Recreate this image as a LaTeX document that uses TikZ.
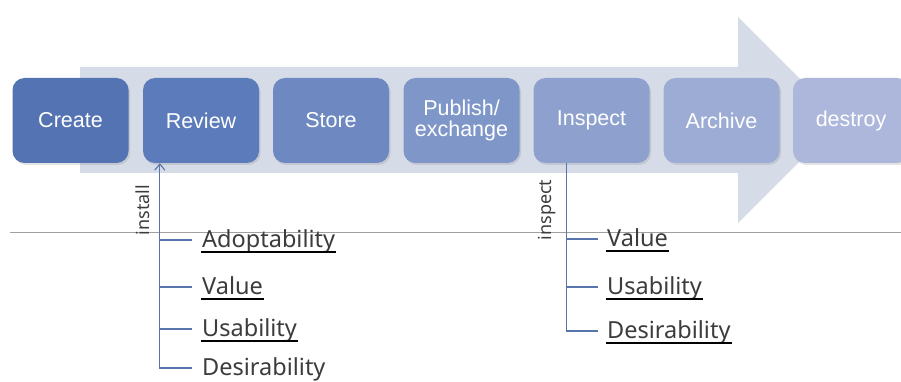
\documentclass[tikz,border=0pt]{standalone}
\usepackage{fontspec}
\setmainfont{Liberation Sans}
\newfontfamily\treefont{Noto Sans}
\usetikzlibrary{arrows.meta,shadows}
\definecolor{cCreate}{RGB}{84,115,178}
\definecolor{cReview}{RGB}{92,123,186}
\definecolor{cStore}{RGB}{110,137,193}
\definecolor{cPublish}{RGB}{126,150,200}
\definecolor{cInspect}{RGB}{142,161,206}
\definecolor{cArchive}{RGB}{157,172,212}
\definecolor{cDestroy}{RGB}{172,183,219}
\definecolor{arrowbg}{RGB}{214,219,232}
\definecolor{treeblue}{RGB}{88,116,172}
\definecolor{txtgray}{RGB}{60,60,60}
\tikzset{
  stagebox/.style={draw=none, rounded corners=12pt, minimum width=116pt, minimum height=85pt,
    text=white, align=center, inner sep=0pt,
    font=\fontsize{21.5}{22}\selectfont,
    drop shadow={opacity=0.22, shadow xshift=1.5pt, shadow yshift=-2pt}},
  treeline/.style={draw=treeblue, line width=1.1pt},
  leaf/.style={anchor=west, inner sep=0pt, text=txtgray, text height=17pt, text depth=3pt,
    font=\treefont\fontsize{23.5}{26}\selectfont},
  vlabel/.style={rotate=90, text=txtgray, inner sep=0pt, font=\treefont\fontsize{18}{20}\selectfont},
  uline/.style={draw=black, line width=2.4pt}
}
\begin{document}
\begin{tikzpicture}[x=1pt,y=-1pt]
\clip (0,0) rectangle (901,382);
\fill[white] (0,0) rectangle (901,382);
% background arrow
\fill[arrowbg] (80,67) -- (738,67) -- (738,17) -- (841,120) -- (738,223) -- (738,173) -- (80,173) -- cycle;
% gray rule
\draw[color={rgb,255:red,160;green,160;blue,160}, line width=0.8pt] (10,232) -- (901,232);
% stages
\node[stagebox, fill=cCreate] (cre) at (70.5,120.5) {Create};
\node[stagebox, fill=cReview] (rev) at (201,120.5) {Review};
\node[stagebox, fill=cStore] (sto) at (331,120.5) {Store};
\node[stagebox, fill=cPublish] (pub) at (461.5,120.5) {Publish/\\[-1pt]exchange};
\node[stagebox, fill=cInspect] (ins) at (591.5,120.5) {Inspect};
\node[stagebox, fill=cArchive] (arc) at (721.5,120.5) {Archive};
\node[stagebox, fill=cDestroy] (des) at (851,120.5) {destroy};
% left tree
\node[vlabel] (linst) at (143,210) {install};
\node[leaf] (la1) at (202,240) {Adoptability};
\node[leaf] (la2) at (202,287) {Value};
\node[leaf] (la3) at (202,329) {Usability};
\node[leaf] (la4) at (202,368) {Desirability};
\foreach \n in {la1,la2,la3}{
  \draw[uline] ([xshift=-1pt,yshift=-1.5pt]\n.south west) -- ([xshift=1pt,yshift=-1.5pt]\n.south east);
}
\draw[treeline, {Straight Barb[length=6pt,width=10pt,line width=1.1pt]}-] ([xshift=17pt]rev.south west) |- ([xshift=-10pt]la4.west);
\foreach \n in {la1,la2,la3}{
  \draw[treeline] ([xshift=-10pt]\n.west) -- ++(-32,0);
}
% right tree
\node[vlabel] (linsp) at (547,210) {inspect};
\node[leaf] (lb1) at (607,239) {Value};
\node[leaf] (lb2) at (607,287) {Usability};
\node[leaf] (lb3) at (607,331) {Desirability};
\foreach \n in {lb1,lb2,lb3}{
  \draw[uline] ([xshift=-1pt,yshift=-1.5pt]\n.south west) -- ([xshift=1pt,yshift=-1.5pt]\n.south east);
}
\draw[treeline] ([xshift=33pt]ins.south west) |- ([xshift=-9pt]lb3.west);
\foreach \n in {lb1,lb2}{
  \draw[treeline] ([xshift=-9pt]\n.west) -- ++(-32,0);
}
\end{tikzpicture}
\end{document}
